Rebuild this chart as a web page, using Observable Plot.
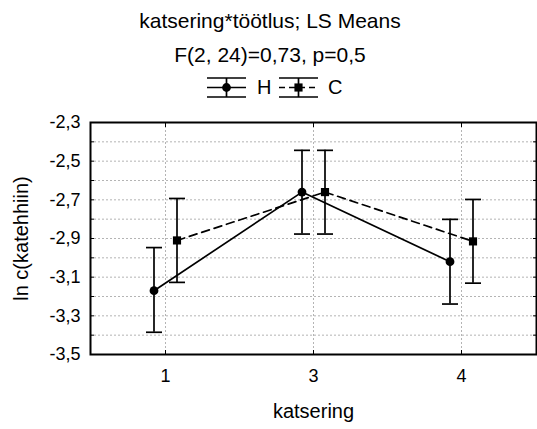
<!DOCTYPE html>
<html><head><meta charset="utf-8">
<script src="https://cdn.jsdelivr.net/npm/d3@7"></script>
<script src="https://cdn.jsdelivr.net/npm/@observablehq/plot@0.6"></script>
<style>
body{margin:0;background:#fff;font-family:Arial,"Liberation Sans",sans-serif;color:#000;}
#wrap{width:537px;height:429px;position:relative;overflow:hidden;}
#head{position:relative;width:537px;height:100px;}
.t{position:absolute;left:0;width:540px;text-align:center;font-size:21px;line-height:21px;white-space:nowrap;}
#legend{position:absolute;left:0;top:70px;}
#chart svg{display:block;}
</style></head><body>
<div id="wrap">
  <div id="head">
    <div class="t" style="top:10px">katsering*töötlus; LS Means</div>
    <div class="t" style="top:44px">F(2, 24)=0,73, p=0,5</div>
    <svg id="legend" width="537" height="34"></svg>
  </div>
  <div id="chart"></div>
</div>
<script>
// ---- data ----
const katsering = ["1", "3", "4"];
const seriesNames = ["H", "C"];
const H_mean = [-3.17, -2.66, -3.02];
const H_low  = [-3.385, -2.877, -3.239];
const H_high = [-2.947, -2.444, -2.801];
const C_mean = [-2.91, -2.66, -2.915];
const C_low  = [-3.127, -2.877, -3.131];
const C_high = [-2.693, -2.444, -2.698];
const yTickLabels = [-3.5, -3.3, -3.1, -2.9, -2.7, -2.5, -2.3];
const yMinorTicks = [-3.4, -3.3, -3.2, -3.1, -3.0, -2.9, -2.8, -2.7, -2.6, -2.5, -2.4];
const xLabel = "katsering";
const yLabel = "ln c(katehhiin)";

const H = katsering.map((k, i) => ({k, mean: H_mean[i], lo: H_low[i], hi: H_high[i]}));
const C = katsering.map((k, i) => ({k, mean: C_mean[i], lo: C_low[i], hi: C_high[i]}));

const cap = {draw(ctx) { ctx.moveTo(-8, 0); ctx.lineTo(8, 0); }};
const fmt = d => d.toFixed(1).replace(".", ",");
const off = 11.5;
const sw = 1.7;

function series(rows, dx, dash, symbol, r) {
  return [
    Plot.lineY(rows, {x: "k", y: "mean", stroke: "black", strokeWidth: sw, strokeDasharray: dash, dx}),
    Plot.ruleX(rows, {x: "k", y1: "lo", y2: "hi", stroke: "black", strokeWidth: sw, dx}),
    Plot.dot(rows, {x: "k", y: "lo", symbol: cap, fill: "none", stroke: "black", strokeWidth: sw, dx}),
    Plot.dot(rows, {x: "k", y: "hi", symbol: cap, fill: "none", stroke: "black", strokeWidth: sw, dx}),
    Plot.dot(rows, {x: "k", y: "mean", symbol, r, fill: "black", stroke: "none", dx})
  ];
}

const chart = Plot.plot({
  width: 537,
  height: 329,
  marginTop: 22,
  marginBottom: 75,
  marginLeft: 90,
  marginRight: 1,
  style: {fontFamily: "Arial, 'Liberation Sans', sans-serif", fontSize: "18px", background: "white", color: "black"},
  x: {type: "point", domain: katsering, padding: 0.5, align: 0.5},
  y: {domain: [-3.5, -2.3]},
  marks: [
    Plot.gridY(yMinorTicks, {stroke: "#b4b4b4", strokeOpacity: 1, strokeDasharray: "2,2"}),
    Plot.gridX(katsering, {stroke: "#b4b4b4", strokeOpacity: 1, strokeDasharray: "2,2"}),
    ...series(H, -off, null, "circle", 4.4),
    ...series(C, off, "8,5", "square", 4.6),
    Plot.frame({stroke: "black", strokeWidth: 2}),
    Plot.axisY(yMinorTicks, {anchor: "left", tickSize: -4, tickFormat: () => "", label: null}),
    Plot.axisY(yMinorTicks, {anchor: "right", tickSize: -4, tickFormat: () => "", label: null}),
    Plot.axisY(yTickLabels, {anchor: "left", tickSize: 0, tickPadding: 10, tickFormat: fmt, fontSize: 18, label: null}),
    Plot.axisX({anchor: "bottom", tickSize: -4, tickFormat: () => "", label: null}),
    Plot.axisX({anchor: "top", tickSize: -4, tickFormat: () => "", label: null}),
    Plot.axisX({anchor: "bottom", tickSize: 0, tickPadding: 15, fontSize: 18, label: null}),
    Plot.text([xLabel], {text: d => d, frameAnchor: "bottom", textAnchor: "middle", dy: 63, fontSize: 20}),
    Plot.text([yLabel], {text: d => d, frameAnchor: "left", textAnchor: "middle", dx: -69, rotate: -90, fontSize: 20})
  ]
});
document.getElementById("chart").appendChild(chart);

// ---- legend ----
const lg = d3.select("#legend");
const legendItems = [
  {name: seriesNames[0], x0: 207, dash: null, symbol: d3.symbolCircle, size: Math.PI * 4.4 * 4.4, tx: 257},
  {name: seriesNames[1], x0: 279, dash: "6,4", symbol: d3.symbolSquare, size: Math.PI * 4.6 * 4.6, tx: 328}
];
for (const it of legendItems) {
  const g = lg.append("g").attr("stroke", "black").attr("stroke-width", sw);
  const x1 = it.x0 + 39, xm = it.x0 + 19.5;
  g.append("line").attr("x1", it.x0).attr("x2", x1).attr("y1", 8).attr("y2", 8);
  g.append("line").attr("x1", it.x0).attr("x2", x1).attr("y1", 27).attr("y2", 27);
  g.append("line").attr("x1", it.x0).attr("x2", x1).attr("y1", 17.5).attr("y2", 17.5).attr("stroke-dasharray", it.dash);
  g.append("line").attr("x1", xm).attr("x2", xm).attr("y1", 8).attr("y2", 27);
  lg.append("path").attr("d", d3.symbol(it.symbol, it.size)()).attr("transform", `translate(${xm},17.5)`).attr("fill", "black");
  lg.append("text").attr("x", it.tx).attr("y", 24).attr("font-size", 20).attr("font-family", "Arial, 'Liberation Sans', sans-serif").text(it.name);
}
</script>
</body></html>
